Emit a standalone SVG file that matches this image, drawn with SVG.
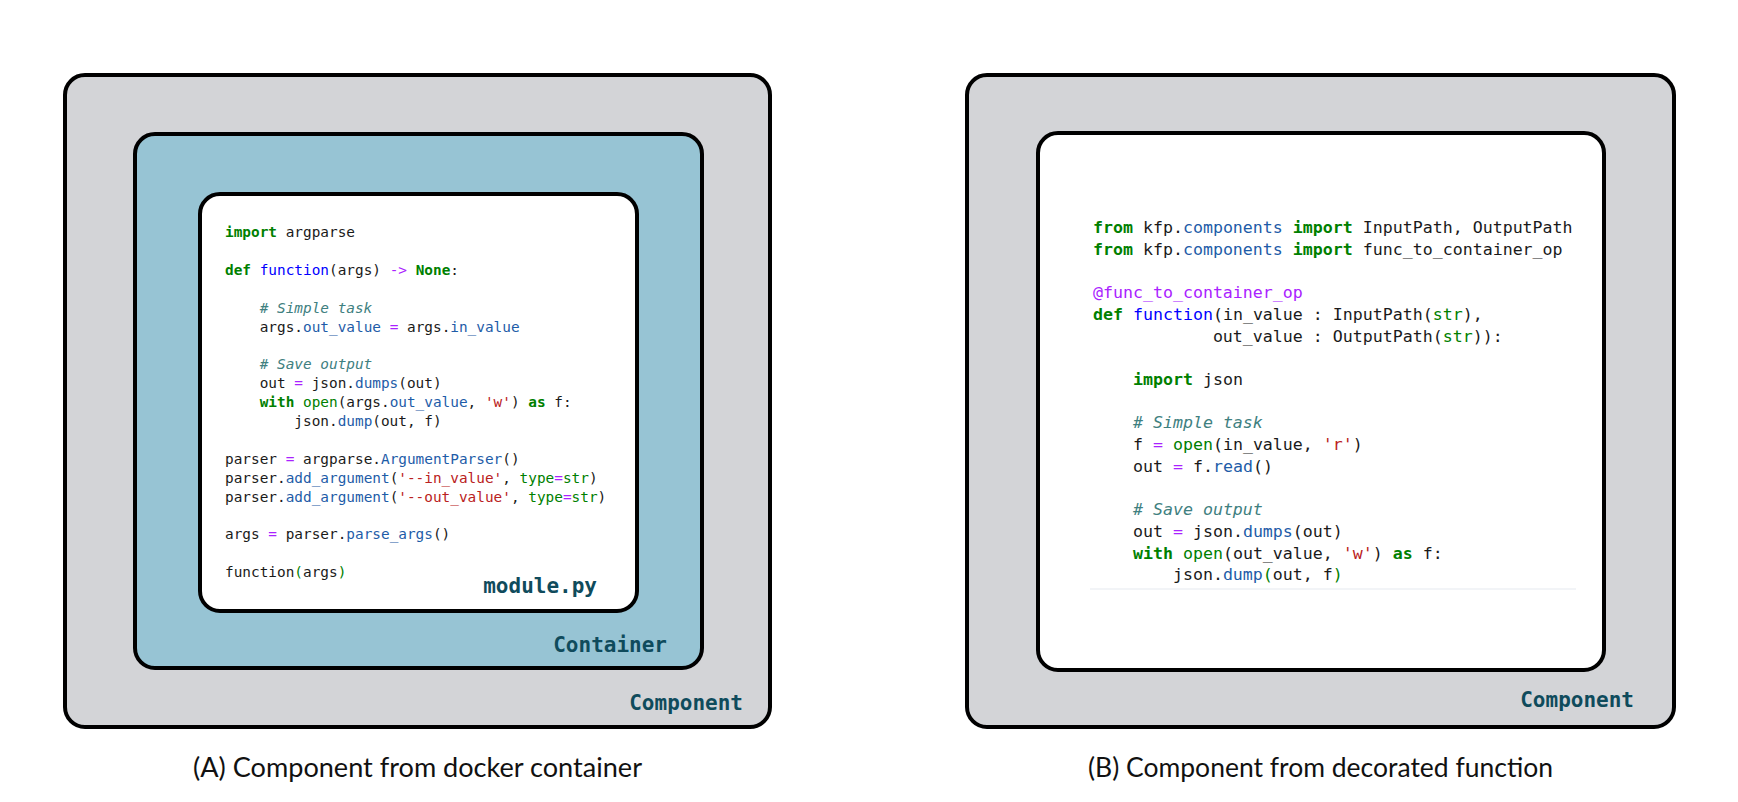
<svg xmlns="http://www.w3.org/2000/svg" width="1738" height="802" viewBox="0 0 1738 802">
<style>
.box{stroke:#000;stroke-width:4}
.outer{fill:#d3d4d7}
.cont{fill:#97c4d4}
.code{fill:#fff}
.lbl{font-family:"DejaVu Sans Mono","Liberation Mono",monospace;font-weight:bold;font-size:21px;fill:#0f4b5c;text-anchor:end}
.src{font-family:"DejaVu Sans Mono","Liberation Mono",monospace;fill:#1a1a1a;white-space:pre}
.a{font-size:14.4px}
.bsrc{font-size:16.6px}
.k{fill:#008000;font-weight:bold}
.bi{fill:#008000}
.fn{fill:#0000ff}
.at{fill:#1e5ca8}
.op{fill:#aa22ff}
.cm{fill:#408080;font-style:italic}
.st{fill:#ba2121}
.cap{font-family:Lato,"Liberation Sans",sans-serif;font-size:26px;fill:#111;text-anchor:middle}
</style>
<rect width="1738" height="802" fill="#fff"/>
<g id="componentA">
<rect class="box outer" x="65" y="75" width="705" height="652" rx="20"/>
<text class="lbl" x="743" y="710">Component</text>
</g>
<g id="containerA">
<rect class="box cont" x="135" y="134" width="567" height="534" rx="20"/>
<text class="lbl" x="667" y="652">Container</text>
</g>
<g id="moduleA">
<rect class="box code" x="200" y="194" width="437" height="417" rx="20"/>
<text class="src a" xml:space="preserve">
<tspan x="225" y="237"><tspan class="k">import</tspan> argparse</tspan>
<tspan x="225" y="274.8"><tspan class="k">def</tspan> <tspan class="fn">function</tspan>(args) <tspan class="op">-&gt;</tspan> <tspan class="k">None</tspan>:</tspan>
<tspan x="225" y="312.6">    <tspan class="cm"># Simple task</tspan></tspan>
<tspan x="225" y="331.5">    args.<tspan class="at">out_value</tspan> <tspan class="op">=</tspan> args.<tspan class="at">in_value</tspan></tspan>
<tspan x="225" y="369.3">    <tspan class="cm"># Save output</tspan></tspan>
<tspan x="225" y="388.2">    out <tspan class="op">=</tspan> json.<tspan class="at">dumps</tspan>(out)</tspan>
<tspan x="225" y="407.1">    <tspan class="k">with</tspan> <tspan class="bi">open</tspan>(args.<tspan class="at">out_value</tspan>, <tspan class="st">'w'</tspan>) <tspan class="k">as</tspan> f:</tspan>
<tspan x="225" y="426">        json.<tspan class="at">dump</tspan>(out, f)</tspan>
<tspan x="225" y="463.8">parser <tspan class="op">=</tspan> argparse.<tspan class="at">ArgumentParser</tspan>()</tspan>
<tspan x="225" y="482.7">parser.<tspan class="at">add_argument</tspan>(<tspan class="st">'--in_value'</tspan>, <tspan class="bi">type</tspan><tspan class="op">=</tspan><tspan class="bi">str</tspan>)</tspan>
<tspan x="225" y="501.6">parser.<tspan class="at">add_argument</tspan>(<tspan class="st">'--out_value'</tspan>, <tspan class="bi">type</tspan><tspan class="op">=</tspan><tspan class="bi">str</tspan>)</tspan>
<tspan x="225" y="539.4">args <tspan class="op">=</tspan> parser.<tspan class="at">parse_args</tspan>()</tspan>
<tspan x="225" y="577.2">function<tspan class="bi">(</tspan>args<tspan class="bi">)</tspan></tspan>
</text>
<text class="lbl" x="597" y="593">module.py</text>
</g>
<g id="componentB">
<rect class="box outer" x="967" y="75" width="707" height="652" rx="20"/>
<text class="lbl" x="1634" y="707">Component</text>
</g>
<g id="functionB">
<rect class="box code" x="1038" y="133" width="566" height="537" rx="20"/>
<line x1="1090" y1="589" x2="1576" y2="589" stroke="#eef1f5" stroke-width="1.5"/>
<text class="src bsrc" xml:space="preserve">
<tspan x="1093" y="233"><tspan class="k">from</tspan> kfp.<tspan class="at">components</tspan> <tspan class="k">import</tspan> InputPath, OutputPath</tspan>
<tspan x="1093" y="254.7"><tspan class="k">from</tspan> kfp.<tspan class="at">components</tspan> <tspan class="k">import</tspan> func_to_container_op</tspan>
<tspan x="1093" y="298.1"><tspan class="op">@func_to_container_op</tspan></tspan>
<tspan x="1093" y="319.8"><tspan class="k">def</tspan> <tspan class="fn">function</tspan>(in_value : InputPath(<tspan class="bi">str</tspan>),</tspan>
<tspan x="1093" y="341.5">            out_value : OutputPath(<tspan class="bi">str</tspan>)):</tspan>
<tspan x="1093" y="384.9">    <tspan class="k">import</tspan> json</tspan>
<tspan x="1093" y="428.3">    <tspan class="cm"># Simple task</tspan></tspan>
<tspan x="1093" y="450">    f <tspan class="op">=</tspan> <tspan class="bi">open</tspan>(in_value, <tspan class="st">'r'</tspan>)</tspan>
<tspan x="1093" y="471.7">    out <tspan class="op">=</tspan> f.<tspan class="at">read</tspan>()</tspan>
<tspan x="1093" y="515.1">    <tspan class="cm"># Save output</tspan></tspan>
<tspan x="1093" y="536.8">    out <tspan class="op">=</tspan> json.<tspan class="at">dumps</tspan>(out)</tspan>
<tspan x="1093" y="558.5">    <tspan class="k">with</tspan> <tspan class="bi">open</tspan>(out_value, <tspan class="st">'w'</tspan>) <tspan class="k">as</tspan> f:</tspan>
<tspan x="1093" y="580.2">        json.<tspan class="at">dump</tspan><tspan class="bi">(</tspan>out, f<tspan class="bi">)</tspan></tspan>
</text>
</g>
<g id="captions">
<text class="cap" x="417.5" y="777" textLength="449" lengthAdjust="spacingAndGlyphs">(A) Component from docker container</text>
<text class="cap" x="1320.5" y="777" textLength="465" lengthAdjust="spacingAndGlyphs">(B) Component from decorated function</text>
</g>
</svg>
